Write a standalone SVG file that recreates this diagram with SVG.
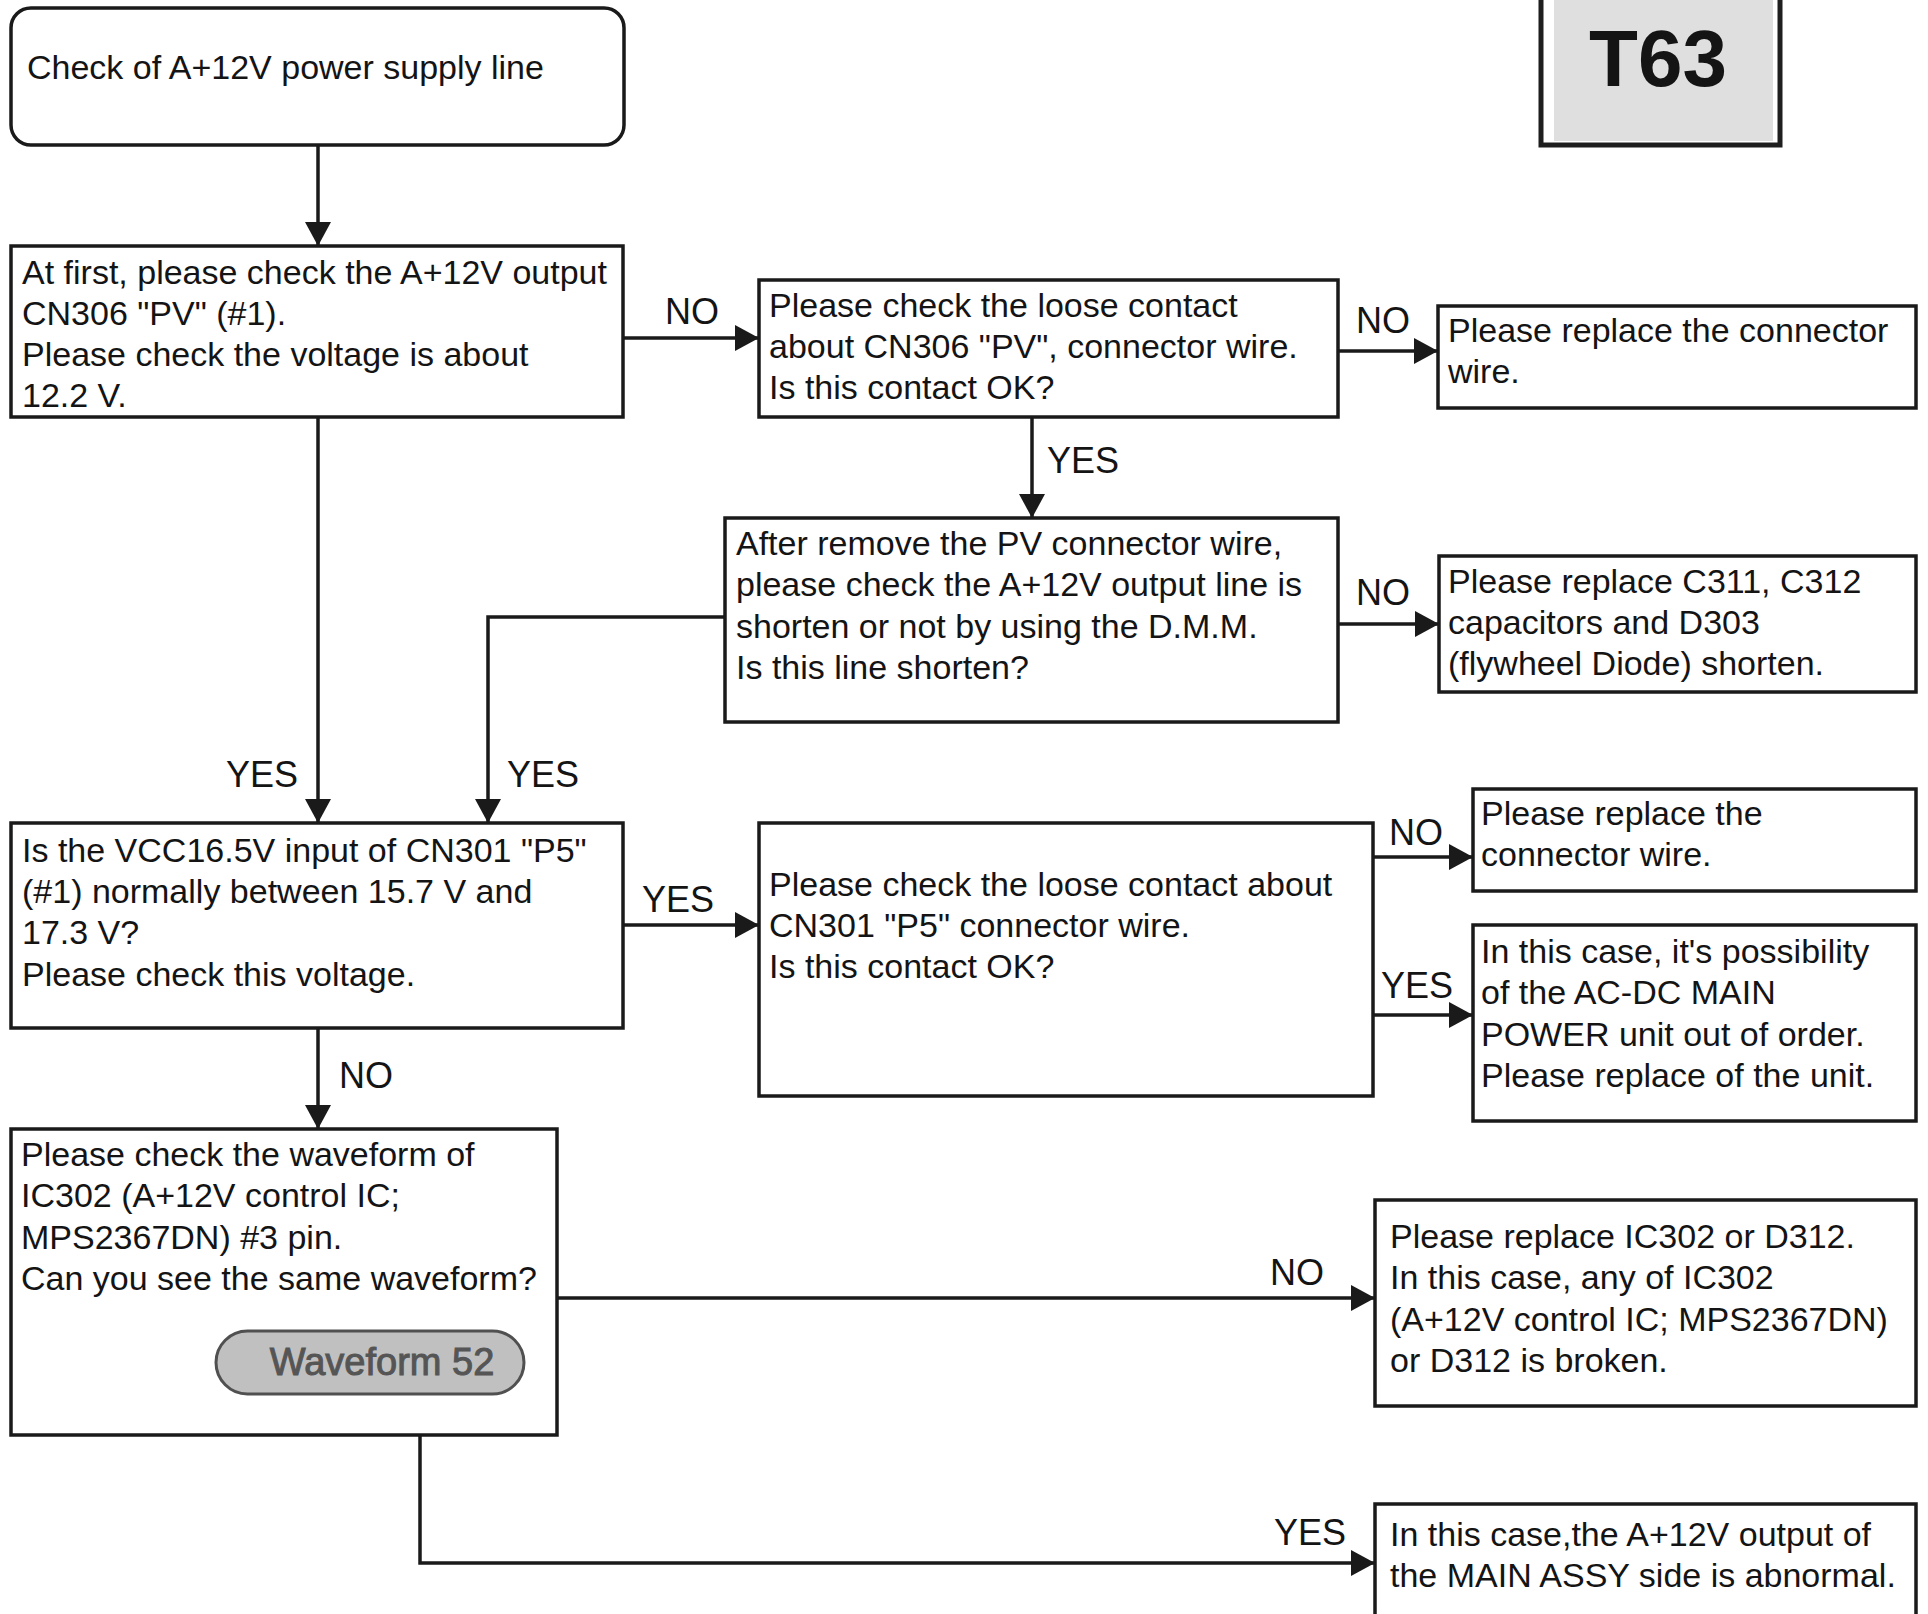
<svg xmlns="http://www.w3.org/2000/svg" width="1928" height="1614" viewBox="0 0 1928 1614">
  <defs>
    <style>
      .box { fill: #ffffff; stroke: #1a1a1a; stroke-width: 3.5; }
      .t { font-family: "Liberation Sans", Arial, Helvetica, sans-serif; font-size: 34px; fill: #141414; }
      .lbl { font-family: "Liberation Sans", Arial, Helvetica, sans-serif; font-size: 36px; fill: #141414; }
      .wire { fill: none; stroke: #1a1a1a; stroke-width: 3.5; }
    </style>
    <marker id="arrow" markerUnits="userSpaceOnUse" markerWidth="26" markerHeight="28" refX="24" refY="13" orient="auto">
      <path d="M0,0 L24,13 L0,26 Z" fill="#1a1a1a"/>
    </marker>
  </defs>

  <rect width="1928" height="1614" fill="#ffffff"/>

  <!-- Page tag -->
  <g id="tag-t63">
    <rect x="1541" y="-10" width="239" height="155" fill="#ffffff" stroke="#1e1e1e" stroke-width="5"/>
    <rect x="1554" y="-10" width="219" height="151" fill="#dfdfdf"/>
    <text x="1658" y="86" text-anchor="middle" font-family="Liberation Sans, Arial, sans-serif" font-weight="bold" font-size="80" fill="#141414">T63</text>
  </g>

  <!-- Connectors -->
  <g id="connectors">
    <path class="wire" d="M318,145 V246" marker-end="url(#arrow)"/>
    <path class="wire" d="M623,338 H759" marker-end="url(#arrow)"/>
    <path class="wire" d="M1338,351 H1438" marker-end="url(#arrow)"/>
    <path class="wire" d="M1032,417 V518" marker-end="url(#arrow)"/>
    <path class="wire" d="M1338,624 H1439" marker-end="url(#arrow)"/>
    <path class="wire" d="M318,417 V823" marker-end="url(#arrow)"/>
    <path class="wire" d="M725,617 H488 V823" marker-end="url(#arrow)"/>
    <path class="wire" d="M623,925 H759" marker-end="url(#arrow)"/>
    <path class="wire" d="M1373,857 H1473" marker-end="url(#arrow)"/>
    <path class="wire" d="M1373,1015 H1473" marker-end="url(#arrow)"/>
    <path class="wire" d="M318,1028 V1129" marker-end="url(#arrow)"/>
    <path class="wire" d="M557,1298 H1375" marker-end="url(#arrow)"/>
    <path class="wire" d="M420,1435 V1563 H1375" marker-end="url(#arrow)"/>

    <text class="lbl" x="665" y="324">NO</text>
    <text class="lbl" x="1356" y="333">NO</text>
    <text class="lbl" x="1047" y="473">YES</text>
    <text class="lbl" x="1356" y="605">NO</text>
    <text class="lbl" x="226" y="787">YES</text>
    <text class="lbl" x="507" y="787">YES</text>
    <text class="lbl" x="642" y="912">YES</text>
    <text class="lbl" x="1389" y="845">NO</text>
    <text class="lbl" x="1381" y="998">YES</text>
    <text class="lbl" x="339" y="1088">NO</text>
    <text class="lbl" x="1270" y="1285">NO</text>
    <text class="lbl" x="1274" y="1545">YES</text>
  </g>

  <!-- Start -->
  <g id="n-start">
    <rect class="box" x="11" y="8" width="613" height="137" rx="20" ry="20"/>
    <text class="t" x="27" y="79">Check of A+12V power supply line</text>
  </g>

  <g id="n-check-output">
    <rect class="box" x="11" y="246" width="612" height="171"/>
    <text class="t" x="22" y="284">At first, please check the A+12V output</text>
    <text class="t" x="22" y="325">CN306 "PV" (#1).</text>
    <text class="t" x="22" y="366">Please check the voltage is about</text>
    <text class="t" x="22" y="407">12.2 V.</text>
  </g>

  <g id="n-pv-contact">
    <rect class="box" x="759" y="280" width="579" height="137"/>
    <text class="t" x="769" y="317">Please check the loose contact</text>
    <text class="t" x="769" y="358">about CN306 "PV", connector wire.</text>
    <text class="t" x="769" y="399">Is this contact OK?</text>
  </g>

  <g id="n-replace-pv-wire">
    <rect class="box" x="1438" y="306" width="478" height="102"/>
    <text class="t" x="1448" y="342">Please replace the connector</text>
    <text class="t" x="1448" y="383">wire.</text>
  </g>

  <g id="n-short-check">
    <rect class="box" x="725" y="518" width="613" height="204"/>
    <text class="t" x="736" y="555">After remove the PV connector wire,</text>
    <text class="t" x="736" y="596">please check the A+12V output line is</text>
    <text class="t" x="736" y="638">shorten or not by using the D.M.M.</text>
    <text class="t" x="736" y="679">Is this line shorten?</text>
  </g>

  <g id="n-replace-caps">
    <rect class="box" x="1439" y="556" width="477" height="136"/>
    <text class="t" x="1448" y="593">Please replace C311, C312</text>
    <text class="t" x="1448" y="634">capacitors and D303</text>
    <text class="t" x="1448" y="675">(flywheel Diode) shorten.</text>
  </g>

  <g id="n-vcc-check">
    <rect class="box" x="11" y="823" width="612" height="205"/>
    <text class="t" x="22" y="862">Is the VCC16.5V input of CN301 "P5"</text>
    <text class="t" x="22" y="903">(#1) normally between 15.7 V and</text>
    <text class="t" x="22" y="944">17.3 V?</text>
    <text class="t" x="22" y="986">Please check this voltage.</text>
  </g>

  <g id="n-p5-contact">
    <rect class="box" x="759" y="823" width="614" height="273"/>
    <text class="t" x="769" y="896">Please check the loose contact about</text>
    <text class="t" x="769" y="937">CN301 "P5" connector wire.</text>
    <text class="t" x="769" y="978">Is this contact OK?</text>
  </g>

  <g id="n-replace-p5-wire">
    <rect class="box" x="1473" y="789" width="443" height="102"/>
    <text class="t" x="1481" y="825">Please replace the</text>
    <text class="t" x="1481" y="866">connector wire.</text>
  </g>

  <g id="n-acdc-unit">
    <rect class="box" x="1473" y="925" width="443" height="196"/>
    <text class="t" x="1481" y="963">In this case, it's possibility</text>
    <text class="t" x="1481" y="1004">of the AC-DC MAIN</text>
    <text class="t" x="1481" y="1046">POWER unit out of order.</text>
    <text class="t" x="1481" y="1087">Please replace of the unit.</text>
  </g>

  <g id="n-waveform">
    <rect class="box" x="11" y="1129" width="546" height="306"/>
    <text class="t" x="21" y="1166">Please check the waveform of</text>
    <text class="t" x="21" y="1207">IC302 (A+12V control IC;</text>
    <text class="t" x="21" y="1249">MPS2367DN) #3 pin.</text>
    <text class="t" x="21" y="1290">Can you see the same waveform?</text>
    <g id="btn-waveform-52">
      <rect x="216" y="1331" width="308" height="63" rx="31.5" ry="31.5" fill="#c0c0c0" stroke="#505050" stroke-width="3"/>
      <text x="382" y="1375" text-anchor="middle" font-family="Liberation Sans, Arial, sans-serif" font-size="38" fill="#555555" stroke="#555555" stroke-width="1">Waveform 52</text>
    </g>
  </g>

  <g id="n-replace-ic302">
    <rect class="box" x="1375" y="1200" width="541" height="206"/>
    <text class="t" x="1390" y="1248">Please replace IC302 or D312.</text>
    <text class="t" x="1390" y="1289">In this case, any of IC302</text>
    <text class="t" x="1390" y="1331">(A+12V control IC; MPS2367DN)</text>
    <text class="t" x="1390" y="1372">or D312 is broken.</text>
  </g>

  <g id="n-main-assy">
    <rect class="box" x="1375" y="1504" width="541" height="130"/>
    <text class="t" x="1390" y="1546">In this case,the A+12V output of</text>
    <text class="t" x="1390" y="1587">the MAIN ASSY side is abnormal.</text>
  </g>
</svg>
